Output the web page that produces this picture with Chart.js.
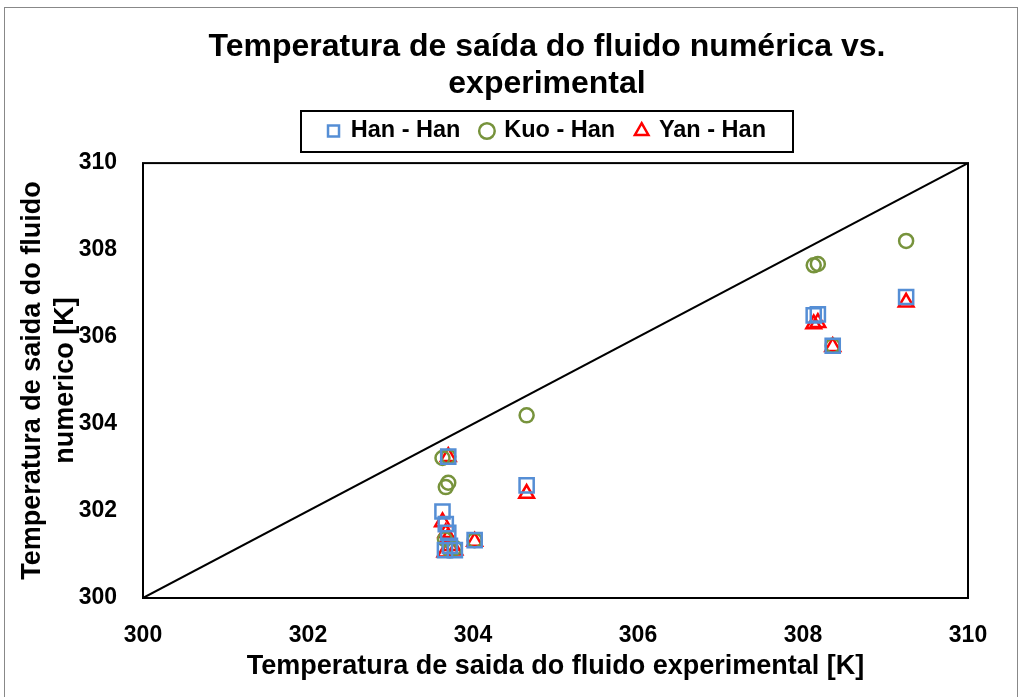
<!DOCTYPE html>
<html>
<head>
<meta charset="utf-8">
<script src="https://cdn.jsdelivr.net/npm/chart.js@4"></script>
<style>
  html, body { margin: 0; padding: 0; background: #fff; }
  #wrap { width: 1022px; height: 697px; }
</style>
</head>
<body>
<div id="wrap"><canvas id="myChart"></canvas></div>
<script>
// experimental outlet temperature (x) for each case
var xExp = [303.70, 303.63, 303.67, 303.70, 303.66, 303.72, 303.78, 304.02, 304.65, 308.13, 308.18, 308.36, 309.25];
// numerical outlet temperature, one array per model
var hanHan = [303.25, 301.99, 301.70, 301.50, 301.10, 301.20, 301.10, 301.33, 302.59, 306.50, 306.52, 305.80, 306.92];
var kuoHan = [303.25, 303.22, 302.55, 302.65, 301.35, 301.10, 301.15, 301.33, 304.20, 307.65, 307.68, 305.80, 308.21];
var yanHan = [303.25, 301.75, 301.50, 301.40, 301.05, 301.20, 301.10, 301.30, 302.40, 306.30, 306.33, 305.78, 306.80];
var diagX = [300, 310];
var tickValues = [300, 302, 304, 306, 308, 310];

function toPoints(xs, ys) {
  return xs.map(function (x, i) { return { x: x, y: ys[i] }; });
}

var font = "'Liberation Sans', Arial, sans-serif";
var headerCenter = 547; // title and legend sit a bit right of the canvas middle
var legendTextY = 131;

// move title and legend to where the original has them
var placeHeader = {
  id: "placeHeader",
  afterUpdate: function (chart) {
    var t = chart.titleBlock;
    var dxT = headerCenter - (t.left + t.right) / 2;
    t.left += dxT; t.right += dxT;
    var lg = chart.legend;
    var dx = headerCenter - (lg.left + lg.right) / 2;
    var hb = lg.legendHitBoxes[0];
    var dy = legendTextY - (hb.top + hb.height / 2);
    lg.left += dx; lg.right += dx;
    lg.top += dy; lg.bottom += dy;
  }
};

// border round the plot, the legend and the whole chart
var boxes = {
  id: "boxes",
  afterDraw: function (chart) {
    var ctx = chart.ctx;
    var a = chart.chartArea;
    ctx.save();
    ctx.strokeStyle = "#000";
    ctx.lineWidth = 2;
    ctx.strokeRect(a.left, a.top, a.right - a.left, a.bottom - a.top);
    var lg = chart.legend;
    var cx = (lg.left + lg.right) / 2;
    ctx.strokeRect(cx - 246, legendTextY - 20, 492, 41);
    ctx.strokeStyle = "#888";
    ctx.lineWidth = 1;
    ctx.strokeRect(4.5, 7.5, 1013, 700);
    ctx.restore();
  }
};

new Chart("myChart", {
  type: "scatter",
  data: {
    datasets: [{
      label: "Han - Han",
      data: toPoints(xExp, hanHan),
      pointStyle: "rect",
      pointRadius: 10,
      pointBorderWidth: 2.5,
      borderColor: "#558ED5",
      backgroundColor: "rgba(0,0,0,0)"
    }, {
      label: "Kuo - Han",
      data: toPoints(xExp, kuoHan),
      pointStyle: "circle",
      pointRadius: 7,
      pointBorderWidth: 2.5,
      borderColor: "#77933C",
      backgroundColor: "rgba(0,0,0,0)"
    }, {
      label: "Yan - Han",
      data: toPoints(xExp, yanHan),
      pointStyle: "triangle",
      pointRadius: 8.5,
      pointBorderWidth: 2.5,
      borderColor: "#FF0000",
      backgroundColor: "rgba(0,0,0,0)"
    }, {
      type: "line",
      label: "diag",
      data: toPoints(diagX, diagX),
      borderColor: "#000",
      borderWidth: 2,
      pointRadius: 0,
      fill: false
    }]
  },
  options: {
    responsive: true,
    maintainAspectRatio: false,
    animation: false,
    layout: { padding: { left: 10, right: 54, top: 14, bottom: 10 } },
    plugins: {
      title: {
        display: true,
        text: ["Temperatura de saída do fluido numérica vs.", "experimental"],
        color: "#000",
        font: { family: font, size: 32, weight: "bold", lineHeight: 1.15 },
        padding: { top: 15, bottom: 6 }
      },
      legend: {
        position: "top",
        labels: {
          usePointStyle: true,
          boxWidth: 11,
          boxHeight: 11,
          padding: 21,
          color: "#000",
          font: { family: font, size: 23.5, weight: "bold" },
          filter: function (item) { return item.text !== "diag"; }
        }
      },
      tooltip: { enabled: false }
    },
    scales: {
      x: {
        type: "linear",
        min: 300,
        max: 310,
        afterBuildTicks: function (scale) {
          scale.ticks = tickValues.map(function (v) { return { value: v }; });
        },
        afterFit: function (scale) { scale.height = 89; },
        grid: { display: false, drawTicks: false },
        border: { display: false },
        ticks: { color: "#000", padding: 24, font: { family: font, size: 23, weight: "bold" } },
        title: {
          display: true,
          text: "Temperatura de saida do fluido experimental [K]",
          color: "#000",
          font: { family: font, size: 27, weight: "bold" },
          padding: { top: 6 }
        }
      },
      y: {
        type: "linear",
        min: 300,
        max: 310,
        afterBuildTicks: function (scale) {
          scale.ticks = tickValues.map(function (v) { return { value: v }; });
        },
        afterFit: function (scale) { scale.width = 133; },
        grid: { display: false, drawTicks: false },
        border: { display: false },
        ticks: { color: "#000", padding: 26, font: { family: font, size: 23, weight: "bold" } },
        title: {
          display: true,
          text: ["Temperatura de saida do fluido", "numerico [K]"],
          color: "#000",
          font: { family: font, size: 27, weight: "bold", lineHeight: 1.22 },
          padding: { top: 6, bottom: 0 }
        }
      }
    }
  },
  plugins: [placeHeader, boxes]
});
</script>
</body>
</html>
